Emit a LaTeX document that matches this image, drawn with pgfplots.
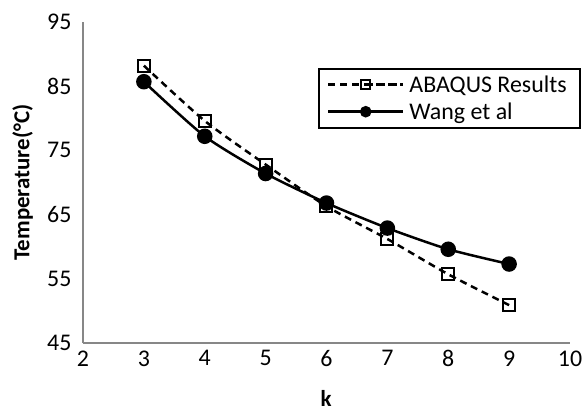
\documentclass[border=0pt]{standalone}
\usepackage{pgfplots}
\pgfplotsset{compat=1.18}
\usepackage{fontspec}
\setmainfont{Carlito}
\begin{document}
\begin{tikzpicture}
\begin{axis}[
  scale only axis, width=487bp, height=321bp, anchor=south west, at={(0,0)},
  xmin=2, xmax=10, ymin=45, ymax=95,
  xtick={2,3,...,10}, ytick={45,55,...,95},
  axis x line*=bottom, axis y line*=left,
  axis line style={draw=black!47, line width=1.4bp, -},
  major tick length=0pt,
  tick label style={font=\fontsize{24}{28}\selectfont},
  /pgf/number format/assume math mode=true,
  xticklabel style={yshift=-4bp},
  yticklabel style={xshift=-8bp},
  xlabel={\textbf{k}}, ylabel={\textbf{Temperature(°C)}},
  label style={font=\fontsize{23}{27}\selectfont},
  xlabel style={at={(axis description cs:0.499,-0.172)}, anchor=center},
  ylabel style={at={(axis description cs:-0.124,0.5)}, anchor=center},
  legend style={at={(0.4825,0.858)}, anchor=north west, draw=black, line width=2bp,
    font=\fontsize{24}{29}\selectfont, inner xsep=8bp, inner ysep=5bp, row sep=5bp,
    nodes={inner xsep=5bp}},
  legend cell align=left,
  legend image code/.code={\draw[#1, mark size=4.5bp] (0bp,0bp) -- (75bp,0bp) plot coordinates {(37.5bp,0bp)} -- (75bp,0bp);},
]
\addplot[black, line width=2.5bp, dashed, dash pattern=on 7bp off 5bp, smooth, tension=0.4, mark=square, mark size=6bp, mark options={solid, fill=white, line width=2bp}]
coordinates {(3,88.2) (4,79.6) (5,72.8) (6,66.3) (7,61.2) (8,55.7) (9,50.9)};
\addlegendentry{ABAQUS Results}
\addplot[black, line width=2.5bp, smooth, tension=0.4, mark=*, mark size=6.5bp, mark options={solid, fill=black}]
coordinates {(3,85.7) (4,77.2) (5,71.4) (6,66.8) (7,62.9) (8,59.6) (9,57.3)};
\addlegendentry{Wang et al}
\end{axis}
\pgfresetboundingbox
\path[use as bounding box] (-83bp,-70bp) rectangle (501bp,343bp);
\end{tikzpicture}
\end{document}
